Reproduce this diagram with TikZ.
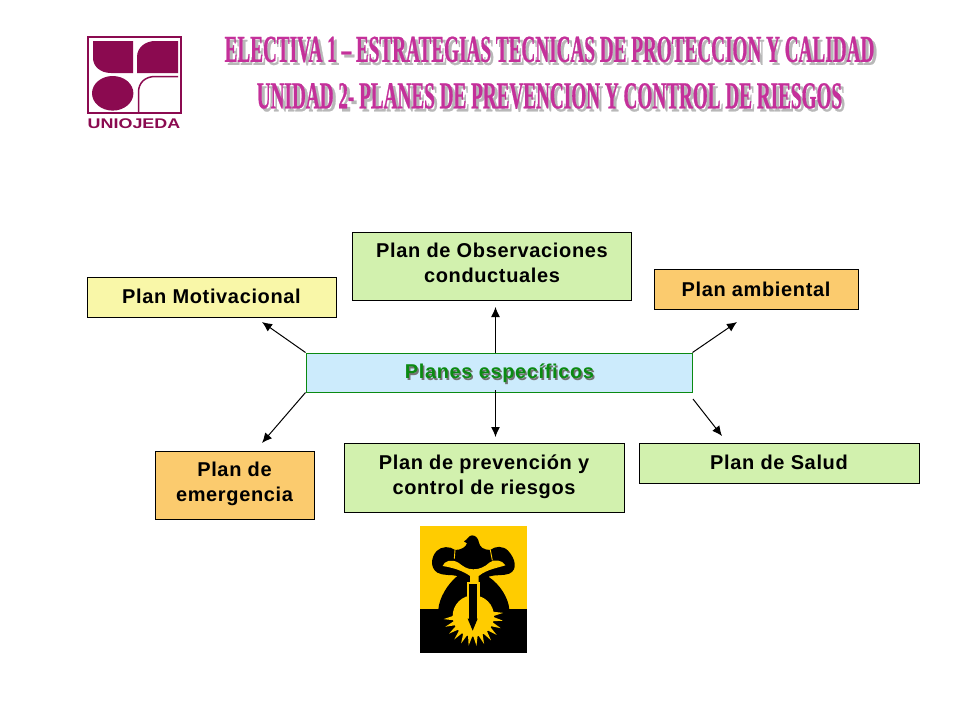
\documentclass[tikz,border=0pt]{standalone}
\usepackage{fontspec}
\setmainfont{Liberation Sans}
\newfontfamily\titlefont[FakeStretch=0.505,FakeBold=0.6]{Liberation Serif}
\newfontfamily\boxfont[LetterSpace=3.2]{Liberation Sans}
\newfontfamily\logofont[FakeStretch=1.28]{Liberation Sans}
\usetikzlibrary{arrows.meta,calc}
\definecolor{logoRed}{HTML}{8B0A50}
\definecolor{titlePink}{HTML}{C4309A}
\definecolor{paleYellow}{HTML}{F9F7A8}
\definecolor{paleGreen}{HTML}{D2F1AE}
\definecolor{paleOrange}{HTML}{FBCB6E}
\definecolor{paleBlue}{HTML}{CCEBFC}
\definecolor{specGreen}{HTML}{0B8A12}
\definecolor{hammerYellow}{HTML}{FFCC00}

\begin{document}
\begin{tikzpicture}
[x=1pt,y=-1pt,%
  boxDecorate/.style={draw=black,line width=1pt,inner sep=0pt},
  textDecorate/.style={align=center,inner sep=0pt,font=\boxfont\fontsize{20}{25}\selectfont\bfseries},
  lineDecorate/.style={-{Latex[length=10pt,width=9pt]},line width=1pt},
  titleDecorate/.style={font=\titlefont\fontsize{38}{42}\selectfont\bfseries,text=titlePink,inner sep=0pt}]
\useasboundingbox (0,0) rectangle (960,720);
%% logo
\draw[logoRed,line width=2pt] (87.5,37) rectangle (181,113);
\fill[logoRed] (93,41) -- (133,41) -- (133,73) -- (111,73) .. controls (100,73) and (93,66) .. (93,58) -- cycle;
\fill[logoRed] (178,41) -- (178,73) -- (137,73) -- (137,57) .. controls (137,47) and (146,41) .. (155,41) -- cycle;
\fill[logoRed] (112.7,93.3) ellipse [x radius=20.7,y radius=17.3];
\draw[logoRed,line width=1.5pt] (178,76.5) -- (155,76.5) .. controls (145,76.5) and (138.5,83) .. (138.5,92) -- (138.5,113);
\node (logotext) at (134,123.5) [logoRed,inner sep=0pt,font=\logofont\fontsize{14}{16}\selectfont\bfseries] {UNIOJEDA};
%% title
\foreach \nodename/\x/\y/\txt in {
  titleone/549.5/49.5/{ELECTIVA 1 – ESTRATEGIAS  TECNICAS DE PROTECCION Y CALIDAD},
  titletwo/549.5/96/{UNIDAD 2- PLANES DE PREVENCION  Y CONTROL DE RIESGOS}}
{
  \node at (\x+3,\y+3) [titleDecorate,text=black!28] {\txt};
  \node (\nodename) at (\x,\y) [titleDecorate] {\txt};
}
%% boxes
\foreach \nodename/\x/\y/\w/\h/\col/\dy/\txt in {
  motivacional/211.5/297/249/40/paleYellow/-0.5/{Plan Motivacional},
  observaciones/492/266/279.5/68/paleGreen/-3.5/{Plan de Observaciones\\conductuales},
  ambiental/756/289/204/40/paleOrange/0/{Plan ambiental},
  emergencia/234.5/485/159/68/paleOrange/-1.5/{Plan de\\emergencia},
  prevencion/484/477.5/280/69/paleGreen/-1/{Plan de prevención y\\control de riesgos},
  salud/779/463/280/40/paleGreen/-0.5/{Plan de Salud}}
{
  \node (\nodename) at (\x,\y) [boxDecorate,fill=\col,minimum width=\w pt,minimum height=\h pt] {};
  \node (\nodename text) at (\x,\y+\dy) [textDecorate] {\txt};
}
\node (especificos) at (499,372.5) [boxDecorate,draw=specGreen,fill=paleBlue,minimum width=386pt,minimum height=39pt] {};
\node (especificosshadow) at (501,375) [textDecorate,text=black!55] {Planes específicos};
\node (especificostext) at (499.5,373.5) [textDecorate,text=specGreen] {Planes específicos};
%% arrow ends
\coordinate (upstart) at (495.5,353);
\coordinate (upend) at (495.5,307);
\coordinate (downstart) at (495.5,390);
\coordinate (downend) at (495.5,437);
\coordinate (nwend) at (262,322);
\coordinate (neend) at (737,322);
\coordinate (swend) at (262,443);
\coordinate (sestart) at (693,399);
\coordinate (seend) at (722,436);
%% arrows
\path
\foreach \startnode/\endnode in {
  upstart/upend, downstart/downend, especificos.north west/nwend,
  especificos.north east/neend, especificos.south west/swend, sestart/seend}
{
  (\startnode) edge[lineDecorate] (\endnode)
};
%% hammer picture
\begin{scope}[shift={(420,526)},scale=0.3333]
\fill[hammerYellow] (0,0) rectangle (321,250);
\fill[black] (0,250) rectangle (321,381);
\fill[black] (132,46) .. controls (142,42) and (146,28) .. (156,28) .. controls (168,28) and (175,38) .. (177,50)
  .. controls (179,62) and (190,72) .. (211,72) .. controls (225,60) and (250,58) .. (265,75)
  .. controls (285,97) and (295,130) .. (268,143) .. controls (250,150) and (225,145) .. (205,152)
  .. controls (240,175) and (265,215) .. (268,250) -- (55,250)
  .. controls (58,215) and (82,175) .. (112,150) .. controls (95,145) and (70,150) .. (52,140)
  .. controls (30,125) and (32,95) .. (50,75) .. controls (65,60) and (90,60) .. (105,72)
  .. controls (125,72) and (138,62) .. (141,52) -- cycle;
\fill[hammerYellow] (68,120) .. controls (72,105) and (95,98) .. (115,110) .. controls (128,120) and (140,130) .. (160,130)
  .. controls (180,130) and (195,122) .. (208,110) .. controls (222,98) and (248,102) .. (256,118)
  .. controls (235,125) and (200,130) .. (176,150) -- (176,172) -- (150,172) -- (150,150)
  .. controls (130,135) and (100,125) .. (68,120) -- cycle;
\draw[hammerYellow,line width=0.9pt] (105,72) -- (103,98);
\draw[hammerYellow,line width=0.9pt] (211,72) -- (217,103);
%% burst
\fill[hammerYellow] (160,270) circle (62);
\foreach \a in {-6,9,...,186}
{
  \fill[hammerYellow] ($(160,270)+(\a-7:58)$) -- ($(160,270)+(\a:90)$) -- ($(160,270)+(\a+7:58)$) -- cycle;
}
\fill[hammerYellow] (142,168) rectangle (180,255);
\fill[black] (148,175) rectangle (172,280);
\fill[black] (143,278) -- (173,278) -- (158,314) -- cycle;
\end{scope}
\end{tikzpicture}
\end{document}
